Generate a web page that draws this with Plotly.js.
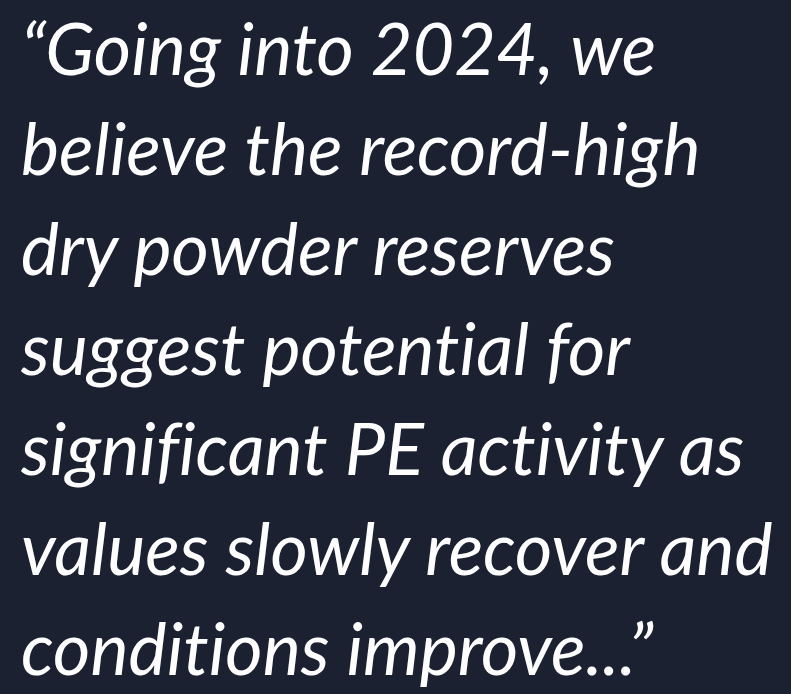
<!DOCTYPE html>
<html>
<head>
<meta charset="utf-8">
<script src="https://cdn.plot.ly/plotly-3.0.1.min.js"></script>
<style>
html,body{margin:0;padding:0;background:#1b2130;}
#chart{width:791px;height:694px;}
#chart text{font-variant-ligatures:none;font-feature-settings:"liga" 0,"clig" 0;}
</style>
</head>
<body>
<div id="chart"></div>
<script>
const quoteLines = [
  "\u201cGoing into 2024, we",
  "believe the record-high",
  "dry powder reserves",
  "suggest potential for",
  "significant PE activity as",
  "values slowly recover and",
  "conditions improve...\u201d"
];
const lineIndex = [0, 1, 2, 3, 4, 5, 6];
const lineX = [0, 0, 0, 0, 0, 0, 0];

const trace = {
  x: lineX,
  y: lineIndex,
  text: quoteLines,
  mode: "text",
  type: "scatter",
  textposition: "middle right",
  textfont: {family: "Lato", size: 72, color: "#ffffff", style: "italic"},
  hoverinfo: "skip",
  cliponaxis: false
};

const layout = {
  width: 791,
  height: 694,
  margin: {l: 0, r: 0, t: 0, b: 0, pad: 0},
  paper_bgcolor: "#1b2130",
  plot_bgcolor: "#1b2130",
  showlegend: false,
  xaxis: {range: [-21, 770], visible: false, fixedrange: true},
  yaxis: {range: [6.37, -0.57], visible: false, fixedrange: true}
};

Plotly.newPlot("chart", [trace], layout, {staticPlot: true, displayModeBar: false});
</script>
</body>
</html>
